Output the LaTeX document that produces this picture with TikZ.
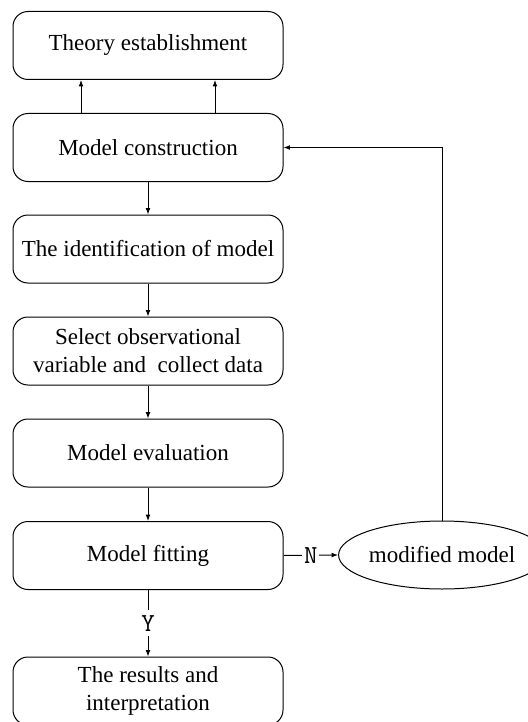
\documentclass[tikz,border=0pt]{standalone}
\usepackage{fontspec}
\setmainfont{Liberation Serif}
\usepackage{tikz}
\usetikzlibrary{shapes.geometric,arrows.meta,positioning}

\begin{document}
\begin{tikzpicture}[
    x=0.5pt,y=-0.5pt,
    box/.style={draw,rounded corners=7.5pt,line width=0.5pt,
                minimum width=135pt,minimum height=34pt,align=center,
                font=\fontsize{11.5}{14}\selectfont},
    ell/.style={draw,ellipse,line width=0.5pt,inner sep=0pt,
                minimum width=92pt,minimum height=34pt,
                font=\fontsize{11.5}{14}\selectfont},
    arr/.style={-{Latex[length=3.2pt,width=2.4pt]},line width=0.5pt},
    lbl/.style={fill=white,inner xsep=0.8pt,inner ysep=2.5pt,
                font=\fontsize{13}{14}\ttfamily}
  ]
    \useasboundingbox (0,0) rectangle (528,722);
    \node[box] (theory) at (148,45.5) {Theory establishment};
    \node[box] (construct) at (148,147.5) {Model construction};
    \node[box] (ident) at (148,249) {The identification of model};
    \node[box] (select) at (148,351) {Select observational\\variable and\ \ collect data};
    \node[box] (eval) at (148,453) {Model evaluation};
    \node[box] (fit) at (148,555.5) {Model fitting};
    \node[box] (result) at (148,691) {The results and\\interpretation};
    \node[ell] (mod) at (442,555) {modified model};
    \draw[arr] ([xshift=-33.5pt]construct.north) -- ([xshift=-33.5pt]theory.south);
    \draw[arr] ([xshift=33.5pt]construct.north) -- ([xshift=33.5pt]theory.south);
    \draw[arr] (construct) -- (ident);
    \draw[arr] (ident) -- (select);
    \draw[arr] (select) -- (eval);
    \draw[arr] (eval) -- (fit);
    \draw[arr] (fit) -- node[lbl]{Y} (result);
    \draw[arr] (fit.east) -- node[lbl]{N} (mod.west);
    \draw[arr] (mod.north) |- (construct.east);
  \end{tikzpicture}
\end{document}
